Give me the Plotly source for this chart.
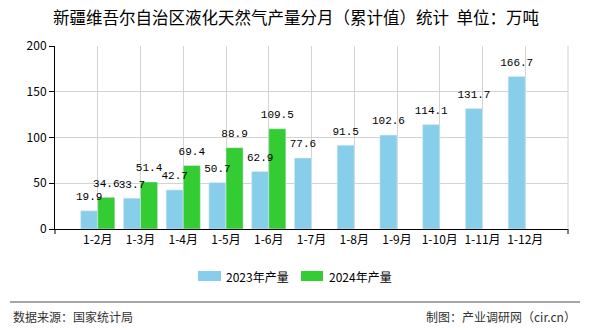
import plotly.graph_objects as go

# Monthly cumulative LNG output, Xinjiang (10k tonnes)
categories = ["1-2月", "1-3月", "1-4月", "1-5月", "1-6月", "1-7月",
              "1-8月", "1-9月", "1-10月", "1-11月", "1-12月"]
values_2023 = [19.9, 33.7, 42.7, 50.7, 62.9, 77.6, 91.5, 102.6, 114.1, 131.7, 166.7]
values_2024 = [34.6, 51.4, 69.4, 88.9, 109.5]
series_names = ["2023年产量", "2024年产量"]
y_ticks = [0, 50, 100, 150, 200]

W, H = 590, 330
L, R, T, B = 55, 568, 46, 229          # plot area in pixels
C2023, C2024 = "#87CEEB", "#33CC33"
CJK = "Noto Sans CJK SC"
MONO = "Liberation Mono"
BAR_W = 0.4

pos = list(range(1, len(categories) + 1))
pos_2024 = pos[:len(values_2024)]

def px(x):
    return x / W

def py(y):
    return 1 - y / H

label_font = dict(family=MONO, size=11, color="#000")

fig = go.Figure()
fig.add_trace(go.Bar(
    x=pos, y=values_2023, name=series_names[0], marker_color=C2023,
    width=BAR_W, offset=-BAR_W, showlegend=False, hoverinfo="skip"))
fig.add_trace(go.Bar(
    x=pos_2024, y=values_2024, name=series_names[1], marker_color=C2024,
    width=BAR_W, offset=0.0, showlegend=False, hoverinfo="skip"))

# value labels drawn on top of every bar
for xs, vals, shift in ((pos, values_2023, -BAR_W / 2),
                        (pos_2024, values_2024, BAR_W / 2)):
    fig.add_trace(go.Scatter(
        x=[x + shift for x in xs], y=vals, mode="markers+text",
        text=[f"{v:.1f}" for v in vals], textposition="top center",
        textfont=label_font, cliponaxis=False,
        marker=dict(size=11, color="rgba(0,0,0,0)"),
        showlegend=False, hoverinfo="skip"))

fig.update_layout(
    width=W, height=H, margin=dict(l=0, r=0, t=0, b=0),
    paper_bgcolor="white", plot_bgcolor="white",
    barmode="overlay", font=dict(family=CJK, size=12, color="#000"),
    xaxis=dict(domain=[px(L), px(R)], range=[0, len(categories) + 1],
               tickvals=pos, ticktext=categories, ticks="",
               showgrid=True, gridcolor="#d3d3d3", gridwidth=1,
               showline=True, linecolor="#000", linewidth=1, zeroline=False,
               tickfont=dict(family=CJK, size=12), automargin=False),
    yaxis=dict(domain=[py(B), py(T)], range=[0, 200], tickvals=y_ticks,
               ticks="outside", ticklen=5, tickcolor="#000",
               showgrid=True, gridcolor="#d3d3d3", gridwidth=1,
               showline=True, linecolor="#000", linewidth=1, zeroline=False,
               tickfont=dict(family=CJK, size=12), automargin=False),
)

shapes = [
    # right border of the plot area
    dict(type="line", xref="paper", yref="paper", x0=px(R), x1=px(R),
         y0=py(B), y1=py(T), line=dict(color="#d3d3d3", width=1)),
    # end ticks on the category axis
    dict(type="line", xref="paper", yref="paper", x0=px(L), x1=px(L),
         y0=py(B), y1=py(B + 5), line=dict(color="#000", width=1)),
    dict(type="line", xref="paper", yref="paper", x0=px(R), x1=px(R),
         y0=py(B), y1=py(B + 5), line=dict(color="#000", width=1)),
    # legend swatches
    dict(type="rect", xref="paper", yref="paper", x0=px(198), x1=px(221),
         y0=py(281), y1=py(271), fillcolor=C2023, line=dict(width=0)),
    dict(type="rect", xref="paper", yref="paper", x0=px(301), x1=px(323),
         y0=py(281), y1=py(271), fillcolor=C2024, line=dict(width=0)),
    # footer separator
    dict(type="line", xref="paper", yref="paper", x0=px(10), x1=px(580),
         y0=py(302), y1=py(302), line=dict(color="#888", width=1.5)),
]

annotations = [
    dict(text="新疆维吾尔自治区液化天然气产量分月（累计值）统计  单位：万吨",
         x=px(296), y=py(17), xref="paper", yref="paper", showarrow=False,
         xanchor="center", yanchor="middle",
         font=dict(family=CJK, size=16.5, color="#000")),
    dict(text=series_names[0], x=px(224), y=py(276), xref="paper", yref="paper",
         showarrow=False, xanchor="left", yanchor="middle",
         font=dict(family=CJK, size=12, color="#000")),
    dict(text=series_names[1], x=px(327), y=py(276), xref="paper", yref="paper",
         showarrow=False, xanchor="left", yanchor="middle",
         font=dict(family=CJK, size=12, color="#000")),
    dict(text="数据来源：国家统计局", x=px(11), y=py(316), xref="paper", yref="paper",
         showarrow=False, xanchor="left", yanchor="middle",
         font=dict(family=CJK, size=12, color="#333")),
    dict(text="制图：产业调研网（cir.cn）", x=px(578), y=py(316), xref="paper",
         yref="paper", showarrow=False, xanchor="right", yanchor="middle",
         font=dict(family=CJK, size=12, color="#333")),
]

fig.update_layout(shapes=shapes, annotations=annotations)
fig.write_html("out.html")
